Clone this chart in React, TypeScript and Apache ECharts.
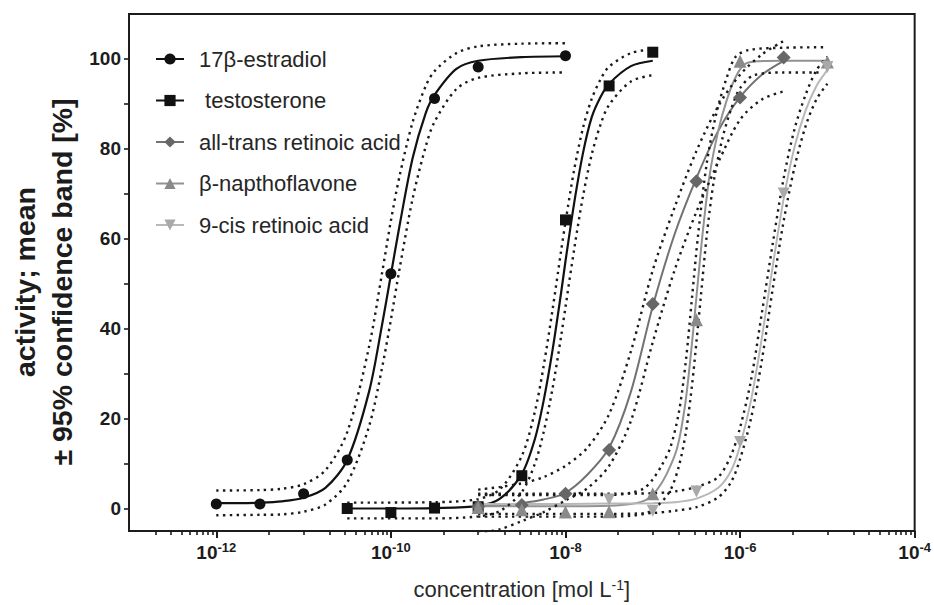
import React, { useEffect, useRef } from 'react';
import * as echarts from 'echarts';

// ---------- data (x = log10 of concentration [mol/L], y = activity %) ----------
const seriesNames = ['17β-estradiol', ' testosterone', 'all-trans retinoic acid', 'β-napthoflavone', '9-cis retinoic acid'];

// measured means
const estradiolPoints = [[-12, 1.0], [-11.5, 1.0], [-11, 3.3], [-10.5, 10.8], [-10, 52.2], [-9.5, 91.2], [-9, 98.2], [-8, 100.7]];
const testosteronePoints = [[-10.5, 0], [-10, -0.9], [-9.5, 0.1], [-9, 0.4], [-8.5, 7.3], [-8, 64.2], [-7.5, 94.0], [-7, 101.5]];
const atraPoints = [[-9, 0.4], [-8.5, 0.8], [-8, 3.3], [-7.5, 13], [-7, 45.5], [-6.5, 72.8], [-6, 91.4], [-5.5, 100.3]];
const bnfPoints = [[-9, 0.2], [-8.5, -0.3], [-8, -0.8], [-7.5, -0.7], [-7, 3.3], [-6.5, 42], [-6, 99.5], [-5, 99.3]];
const cisPoints = [[-7.5, 2.0], [-7, -0.5], [-6.5, 3.8], [-6, 14.8], [-5.5, 70.1], [-5, 98.2]];

// fitted curves
const estradiolFit = [[-12, 1.2], [-11.75, 1.2], [-11.5, 1.3], [-11.25, 1.6], [-11, 2.4], [-10.75, 4.6], [-10.5, 10.8], [-10.25, 26], [-10.1, 41], [-10, 52], [-9.9, 63], [-9.75, 78], [-9.6, 88], [-9.5, 92], [-9.25, 97.8], [-9, 99.6], [-8.5, 100.4], [-8, 100.6]];
const testosteroneFit = [[-10.5, 0], [-10, 0], [-9.5, 0.1], [-9, 0.6], [-8.75, 2.2], [-8.5, 7.7], [-8.35, 15.5], [-8.25, 24], [-8.15, 35], [-8.05, 48], [-8, 55], [-7.9, 68], [-7.8, 79], [-7.7, 87], [-7.6, 91.5], [-7.5, 94.5], [-7.25, 98.4], [-7, 99.6]];
const atraFit = [[-9, 0.5], [-8.75, 0.7], [-8.5, 1.2], [-8.25, 2.0], [-8, 3.5], [-7.75, 7.5], [-7.5, 13.5], [-7.25, 26], [-7, 45], [-6.75, 61], [-6.5, 73.5], [-6.25, 84], [-6, 91.5], [-5.75, 96.5], [-5.5, 99.6]];
const bnfFit = [[-9, 0.5], [-8, 0.5], [-7.5, 0.6], [-7.25, 1.0], [-7.07, 2], [-6.95, 4.2], [-6.84, 7.7], [-6.72, 13.5], [-6.63, 23], [-6.56, 35], [-6.5, 47], [-6.43, 61], [-6.35, 74], [-6.25, 84], [-6.15, 91], [-6.05, 96], [-5.95, 98.8], [-5.8, 99.5], [-5.5, 99.6], [-5, 99.6]];
const cisFit = [[-9, 1.0], [-8, 1.0], [-7.5, 1.1], [-7, 1.2], [-6.75, 1.4], [-6.5, 2.2], [-6.25, 4.6], [-6.1, 8.5], [-6, 14], [-5.875, 24], [-5.75, 38], [-5.625, 54], [-5.5, 69], [-5.375, 80.5], [-5.25, 88.5], [-5.125, 94], [-5, 97.5]];

// 95% confidence bands
const estradiolUpper = [[-12, 4.0], [-11.5, 4.1], [-11.25, 4.4], [-11, 5.4], [-10.75, 8.5], [-10.5, 17], [-10.25, 36], [-10.1, 52.5], [-10, 64], [-9.9, 74], [-9.75, 86], [-9.6, 94], [-9.5, 97.3], [-9.25, 101.3], [-9, 102.8], [-8.5, 103.4], [-8, 103.5]];
const estradiolLower = [[-12, -1.5], [-11.5, -1.4], [-11.25, -1.3], [-11, -0.7], [-10.75, 0.9], [-10.5, 5.8], [-10.25, 18.3], [-10.1, 31.4], [-10, 42], [-9.9, 53.4], [-9.75, 69], [-9.6, 80.6], [-9.5, 86], [-9.25, 93.3], [-9, 95.8], [-8.5, 96.8], [-8, 97]];
const testosteroneUpper = [[-10.5, 1.3], [-9.5, 1.4], [-9, 2.1], [-8.75, 4.3], [-8.5, 11.7], [-8.35, 21.6], [-8.25, 31.7], [-8.15, 44], [-8.05, 57.3], [-8, 63.7], [-7.9, 75.4], [-7.8, 84.6], [-7.7, 91.1], [-7.6, 95.4], [-7.5, 98.3], [-7.25, 101.3], [-7, 102.2]];
const testosteroneLower = [[-10.5, -2.2], [-9.5, -2.2], [-9, -1.75], [-8.75, -0.55], [-8.5, 3.7], [-8.35, 10], [-8.25, 17], [-8.15, 26.5], [-8.05, 38.3], [-8, 44.8], [-7.9, 57.7], [-7.8, 69.4], [-7.7, 78.7], [-7.6, 85.3], [-7.5, 89.8], [-7.25, 95], [-7, 96.4]];
const atraUpper = [[-9, 4.2], [-8.75, 4.8], [-8.5, 5.6], [-8.25, 7], [-8, 9.5], [-7.75, 13.5], [-7.5, 21], [-7.25, 35], [-7, 53], [-6.75, 67], [-6.5, 79.5], [-6.25, 89.5], [-6, 96.5], [-5.75, 101], [-5.5, 104]];
const atraLower = [[-9, -5.5], [-8.75, -4.6], [-8.5, -2.8], [-8.25, -0.8], [-8, 1.8], [-7.75, 4.5], [-7.5, 9.5], [-7.25, 19.5], [-7, 37], [-6.75, 53], [-6.5, 66], [-6.25, 77], [-6, 86.5], [-5.75, 91], [-5.5, 92.8]];
const bnfUpper = [[-9, 3], [-7.5, 3], [-7.25, 3.5], [-7.1, 4.5], [-7, 6.5], [-6.9, 9.5], [-6.8, 13.5], [-6.7, 21.5], [-6.62, 33], [-6.55, 47], [-6.48, 61], [-6.38, 77], [-6.27, 88], [-6.15, 96], [-6.05, 100.5], [-5.9, 102], [-5.5, 102.5], [-5, 102.6]];
const bnfLower = [[-9, -1.8], [-7.5, -1.8], [-7.1, -1.2], [-6.95, 0.5], [-6.8, 4], [-6.7, 9.5], [-6.62, 17], [-6.55, 27.5], [-6.5, 37], [-6.45, 47], [-6.38, 61], [-6.3, 73], [-6.2, 82.5], [-6.1, 89], [-6.0, 93.5], [-5.85, 96.3], [-5.5, 97], [-5.1, 97]];
const cisUpper = [[-9, 3.3], [-7.5, 3.3], [-7, 3.4], [-6.75, 3.8], [-6.5, 4.8], [-6.25, 7], [-6.1, 12], [-6, 18], [-5.875, 28.5], [-5.75, 43.5], [-5.625, 59], [-5.5, 73.5], [-5.375, 84.5], [-5.25, 92], [-5.125, 97.5], [-5, 100.5]];
const cisLower = [[-9, -1.2], [-7.5, -1.2], [-7, -1.0], [-6.75, -0.5], [-6.5, 0.3], [-6.25, 2.5], [-6.1, 6], [-6, 11], [-5.875, 20], [-5.75, 33], [-5.625, 49], [-5.5, 64], [-5.375, 76], [-5.25, 85], [-5.125, 91], [-5, 94.5]];

// axis ticks / labels
const xLabelValues = [1e-12, 1e-10, 1e-8, 1e-6, 1e-4];
const xMajorTickValues = [1e-12, 1e-10, 1e-8, 1e-6, 1e-4];
const xMinorTickValues = [
  2e-13, 3e-13, 4e-13, 5e-13, 6e-13, 7e-13, 8e-13, 9e-13,
  4e-12, 1e-11, 2e-11, 3e-11, 4e-11, 5e-11, 6e-11, 7e-11, 8e-11, 9e-11,
  4e-10, 1e-9, 2e-9, 3e-9, 4e-9, 5e-9, 6e-9, 7e-9, 8e-9, 9e-9,
  4e-8, 1e-7, 2e-7, 3e-7, 4e-7, 5e-7, 6e-7, 7e-7, 8e-7, 9e-7,
  4e-6, 1e-5, 2e-5, 3e-5, 4e-5, 5e-5, 6e-5, 7e-5, 8e-5, 9e-5,
];
const yTickValues = [0, 10, 20, 30, 40, 50, 60, 70, 80, 90, 100];
const yLabelValues = [0, 20, 40, 60, 80, 100];

// ---------- styling ----------
const FONT = '"Liberation Sans", Arial, Helvetica, sans-serif';
const INK = '#1c1c1c';

const toXY = (pts: number[][]) => pts.map(([e, v]) => [Math.pow(10, e), v]);

const groups = [
  { name: seriesNames[0], pts: estradiolPoints, fit: estradiolFit, up: estradiolUpper, lo: estradiolLower, symbol: 'circle', size: 11, mark: '#111111', line: '#111111', lw: 2.2 },
  { name: seriesNames[1], pts: testosteronePoints, fit: testosteroneFit, up: testosteroneUpper, lo: testosteroneLower, symbol: 'rect', size: 11, mark: '#111111', line: '#111111', lw: 2.2 },
  { name: seriesNames[2], pts: atraPoints, fit: atraFit, up: atraUpper, lo: atraLower, symbol: 'diamond', size: 14, mark: '#676767', line: '#727272', lw: 2 },
  { name: seriesNames[3], pts: bnfPoints, fit: bnfFit, up: bnfUpper, lo: bnfLower, symbol: 'triangle', size: 13, mark: '#8a8a8a', line: '#939393', lw: 2 },
  { name: seriesNames[4], pts: cisPoints, fit: cisFit, up: cisUpper, lo: cisLower, symbol: 'path://M0,0L10,0L5,10Z', size: 12, mark: '#a9a9a9', line: '#b8b8b8', lw: 2 },
];

function buildOption() {
  const curveSeries = groups.map((g) => ({
    type: 'line',
    name: g.name,
    data: toXY(g.fit),
    showSymbol: false,
    symbol: g.symbol,
    symbolSize: g.size,
    smooth: 0.3,
    itemStyle: { color: g.mark },
    lineStyle: { color: g.line, width: g.lw },
    silent: true,
    z: 2,
  }));
  const bandSeries: any[] = [];
  groups.forEach((g, i) => {
    [g.up, g.lo].forEach((band, j) => {
      bandSeries.push({
        type: 'line',
        name: `band-${i}-${j}`,
        data: toXY(band),
        showSymbol: false,
        symbol: 'none',
        smooth: 0.3,
        lineStyle: { color: '#1a1a1a', width: 2.4, type: [2.4, 4.4] },
        silent: true,
        z: 2,
      });
    });
  });
  const pointSeries = groups.map((g) => ({
    type: 'scatter',
    name: g.name,
    data: toXY(g.pts),
    symbol: g.symbol,
    symbolSize: g.size,
    itemStyle: { color: g.mark, opacity: 1 },
    silent: true,
    z: 3,
  }));

  const tickLine = { color: INK, width: 2 };

  return {
    animation: false,
    backgroundColor: '#ffffff',
    grid: { left: 129, right: 19, top: 14, bottom: 70, show: true, borderColor: INK, borderWidth: 2, backgroundColor: 'transparent' },
    legend: {
      data: seriesNames,
      orient: 'vertical',
      left: 155,
      top: 47,
      padding: 0,
      itemWidth: 28,
      itemHeight: 14,
      itemGap: 17.5,
      selectedMode: false,
      textStyle: { fontFamily: FONT, fontSize: 22, color: '#262626', lineHeight: 24, padding: [0, 0, 0, 10] },
    },
    xAxis: [
      {
        type: 'log',
        logBase: 10,
        min: 1e-13,
        max: 1e-4,
        position: 'bottom',
        axisLine: { show: true, onZero: false, lineStyle: tickLine },
        axisTick: { show: true, customValues: xMajorTickValues, length: 7, lineStyle: tickLine },
        axisLabel: {
          customValues: xLabelValues,
          margin: 10,
          formatter: (v: number) => `{b|10}{s|${Math.round(Math.log10(v))}}`,
          rich: {
            b: { fontFamily: FONT, fontSize: 19, fontWeight: 'bold', color: INK, lineHeight: 22 },
            s: { fontFamily: FONT, fontSize: 13, fontWeight: 'bold', color: INK, lineHeight: 14, verticalAlign: 'top' },
          },
        },
        splitLine: { show: false },
        name: 'concentration [mol L{s|-1}]',
        nameLocation: 'middle',
        nameGap: 47,
        nameTextStyle: {
          fontFamily: FONT, fontSize: 22, color: '#2a2a2a',
          rich: { s: { fontFamily: FONT, fontSize: 14, color: '#2a2a2a', verticalAlign: 'top', lineHeight: 14 } },
        },
      },
      {
        type: 'log',
        logBase: 10,
        min: 1e-13,
        max: 1e-4,
        position: 'bottom',
        axisLine: { show: false, onZero: false },
        axisTick: { show: true, customValues: xMinorTickValues, length: 4, lineStyle: { color: INK, width: 1.6 } },
        axisLabel: { show: false },
        splitLine: { show: false },
      },
    ],
    yAxis: {
      type: 'value',
      min: -5,
      max: 110,
      axisLine: { show: true, onZero: false, lineStyle: tickLine },
      axisTick: { show: true, customValues: yTickValues, length: 5, lineStyle: { color: INK, width: 1.6 } },
      axisLabel: { customValues: yLabelValues, margin: 8, fontFamily: FONT, fontSize: 19, fontWeight: 'bold', color: INK },
      splitLine: { show: false },
    },
    graphic: [
      {
        type: 'text',
        x: 43,
        y: 282,
        rotation: Math.PI / 2,
        style: {
          text: 'activity; mean\n± 95% confidence band [%]',
          fontFamily: FONT,
          fontSize: 28.5,
          fontWeight: 'bold',
          fill: INK,
          align: 'center',
          verticalAlign: 'middle',
          lineHeight: 37,
        },
      },
    ],
    series: [...curveSeries, ...bandSeries, ...pointSeries],
  };
}

export default function App() {
  const ref = useRef<HTMLDivElement>(null);
  useEffect(() => {
    if (!ref.current) return;
    const chart = echarts.init(ref.current, null, { renderer: 'svg' });
    chart.setOption(buildOption() as any);
    return () => chart.dispose();
  }, []);
  return (
    <div
      ref={ref}
      style={{ position: 'absolute', left: 0, top: 0, width: 934, height: 605, background: '#fff' }}
    />
  );
}
